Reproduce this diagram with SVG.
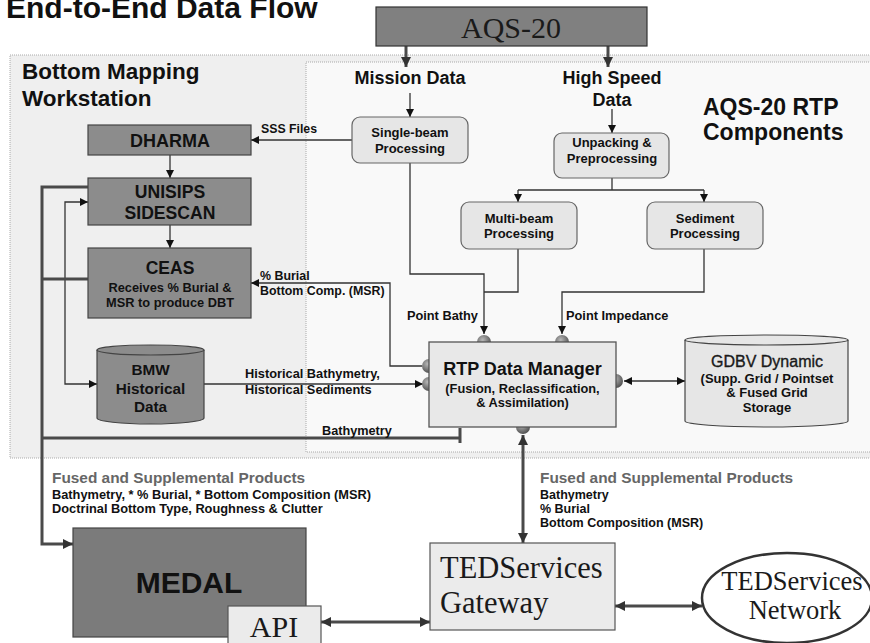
<svg xmlns="http://www.w3.org/2000/svg" width="870" height="643" viewBox="0 0 870 643">
<defs>
<style>
.t{font-family:"Liberation Sans",Arial,sans-serif;font-weight:bold;fill:#111}
.r{font-family:"Liberation Serif","Times New Roman",serif;fill:#1a1a1a}
.c{text-anchor:middle}
.dark{fill:#8c8c8c;stroke:#444;stroke-width:1.2}
.light{fill:#e6e6e6;stroke:#666;stroke-width:1.2}
.thin{fill:none;stroke:#333;stroke-width:1.3}
.thick{fill:none;stroke:#4a4a4a;stroke-width:3}
.panel{stroke:#aaa;stroke-width:1;stroke-dasharray:1 1}
</style>
<marker id="a" markerUnits="userSpaceOnUse" markerWidth="9" markerHeight="9" refX="8" refY="4" orient="auto-start-reverse"><path d="M0,0 L8,4 L0,8 z" fill="#111"/></marker>
<marker id="b" markerUnits="userSpaceOnUse" markerWidth="11" markerHeight="11" refX="10" refY="5" orient="auto-start-reverse"><path d="M0,0 L10,5 L0,10 z" fill="#333"/></marker>
<radialGradient id="g" cx="0.4" cy="0.35" r="0.7"><stop offset="0" stop-color="#b8b8b8"/><stop offset="1" stop-color="#4a4a4a"/></radialGradient>
</defs>
<rect width="870" height="643" fill="#ffffff"/>
<g id="panels">
<rect class="panel" x="10" y="55" width="880" height="403" fill="#efefef"/>
<rect class="panel" x="306" y="62" width="580" height="390" fill="#f9f9f9"/>
</g>
<text class="t" x="6" y="18" font-size="30">End-to-End Data Flow</text>
<text class="t" x="22" y="79" font-size="22.5">Bottom Mapping</text>
<text class="t" x="22" y="106" font-size="22.5">Workstation</text>
<text class="t" x="703" y="115" font-size="23">AQS-20 RTP</text>
<text class="t" x="703" y="140" font-size="23">Components</text>
<text class="t c" x="410" y="84" font-size="18">Mission Data</text>
<text class="t c" x="612" y="84" font-size="18">High Speed</text>
<text class="t c" x="612" y="106" font-size="18">Data</text>

<g id="connectors">
<path class="thick" d="M406,32 V67" marker-end="url(#b)"/>
<path class="thick" d="M608,32 V67" marker-end="url(#b)"/>
<path class="thin" d="M410,93 V117" marker-end="url(#a)"/>
<path class="thin" d="M612,109 V133" marker-end="url(#a)"/>
<path class="thin" d="M352,140 H251" marker-end="url(#a)"/>
<path class="thin" d="M170,155 V178" marker-end="url(#a)"/>
<path class="thin" d="M170,225 V248" marker-end="url(#a)"/>
<path class="thin" d="M612,178 V190 M518,190 H704"/>
<path class="thin" d="M518,190 V202" marker-end="url(#a)"/>
<path class="thin" d="M704,190 V202" marker-end="url(#a)"/>
<path class="thin" d="M410,163 V274 H484 V334" marker-end="url(#a)"/>
<path class="thin" d="M518,249 V292 H484"/>
<path class="thin" d="M704,249 V292 H562 V334" marker-end="url(#a)"/>
<path class="thin" d="M422,366 H390 V283 H251" marker-end="url(#a)"/>
<path class="thin" d="M204,384 H423" marker-end="url(#a)"/>
<path class="thin" d="M88,202 H65 V384 H97" marker-start="url(#a)" marker-end="url(#a)"/>
<path class="thin" d="M624,381 H685" marker-start="url(#a)" marker-end="url(#a)"/>
<path class="thick" d="M88,187 H42 V544 H73" marker-end="url(#b)"/>
<path class="thick" d="M88,279 H42 M42,438 H460 M460,428 V443"/>
<path class="thick" d="M523,435 V543" marker-start="url(#b)" marker-end="url(#b)"/>
<path class="thick" d="M321,622 H430" marker-start="url(#b)" marker-end="url(#b)"/>
<path class="thick" d="M615,606 H702" marker-start="url(#b)" marker-end="url(#b)"/>
</g>

<g id="labels">
<text class="t" x="261" y="133" font-size="12.3">SSS Files</text>
<text class="t" x="260" y="280" font-size="12.4">% Burial</text>
<text class="t" x="260" y="295" font-size="12.4">Bottom Comp. (MSR)</text>
<text class="t" x="478" y="320" font-size="12.8" text-anchor="end">Point Bathy</text>
<text class="t" x="566" y="320" font-size="12.8">Point Impedance</text>
<text class="t" x="245" y="378" font-size="12.8">Historical Bathymetry,</text>
<text class="t" x="245" y="394" font-size="12.8">Historical Sediments</text>
<text class="t" x="322" y="435" font-size="12.7">Bathymetry</text>
<text class="t" x="52" y="483" font-size="15.4" style="fill:#666">Fused and Supplemental Products</text>
<text class="t" x="52" y="499" font-size="12.8">Bathymetry, * % Burial, * Bottom Composition (MSR)</text>
<text class="t" x="52" y="513" font-size="12.8">Doctrinal Bottom Type, Roughness &amp; Clutter</text>
<text class="t" x="540" y="483" font-size="15.4" style="fill:#666">Fused and Supplemental Products</text>
<text class="t" x="540" y="499" font-size="12.5">Bathymetry</text>
<text class="t" x="540" y="513" font-size="12.5">% Burial</text>
<text class="t" x="540" y="527" font-size="12.5">Bottom Composition (MSR)</text>
</g>

<g id="aqs20">
<rect x="376" y="7" width="271" height="39" fill="#808080" stroke="#333" stroke-width="1.2"/>
<text class="r c" x="511" y="38" font-size="30">AQS-20</text>
</g>
<g id="dharma">
<rect class="dark" x="88" y="125" width="163" height="30"/>
<text class="t c" x="170" y="147" font-size="18">DHARMA</text>
</g>
<g id="unisips">
<rect class="dark" x="88" y="178" width="163" height="47"/>
<text class="t c" x="170" y="198" font-size="17.6">UNISIPS</text>
<text class="t c" x="170" y="219" font-size="17.6">SIDESCAN</text>
</g>
<g id="ceas">
<rect class="dark" x="88" y="248" width="163" height="70"/>
<text class="t c" x="170" y="274" font-size="17.5">CEAS</text>
<text class="t c" x="170" y="292" font-size="12.8">Receives % Burial &amp;</text>
<text class="t c" x="170" y="307" font-size="12.8">MSR to produce DBT</text>
</g>
<g id="bmw">
<path class="dark" d="M97,350 V418 A53.5,6 0 0 0 204,418 V350"/>
<ellipse class="dark" cx="150.5" cy="350" rx="53.5" ry="5"/>
<text class="t c" x="150.5" y="375" font-size="15.3">BMW</text>
<text class="t c" x="150.5" y="394" font-size="15.3">Historical</text>
<text class="t c" x="150.5" y="412" font-size="15.3">Data</text>
</g>
<g id="singlebeam">
<rect class="light" x="352" y="117" width="116" height="46" rx="8"/>
<text class="t c" x="410" y="137" font-size="13">Single-beam</text>
<text class="t c" x="410" y="153" font-size="13">Processing</text>
</g>
<g id="unpacking">
<rect class="light" x="554" y="133" width="115" height="45" rx="8"/>
<text class="t c" x="612" y="147" font-size="13">Unpacking &amp;</text>
<text class="t c" x="612" y="163" font-size="13">Preprocessing</text>
</g>
<g id="multibeam">
<rect class="light" x="461" y="202" width="116" height="47" rx="8"/>
<text class="t c" x="519" y="223" font-size="13">Multi-beam</text>
<text class="t c" x="519" y="238" font-size="13">Processing</text>
</g>
<g id="sediment">
<rect class="light" x="647" y="202" width="116" height="47" rx="8"/>
<text class="t c" x="705" y="223" font-size="13">Sediment</text>
<text class="t c" x="705" y="238" font-size="13">Processing</text>
</g>
<g id="rtp">
<circle cx="484" cy="342" r="7" fill="url(#g)"/>
<circle cx="562" cy="342" r="7" fill="url(#g)"/>
<circle cx="429" cy="366" r="7" fill="url(#g)"/>
<circle cx="429" cy="384" r="7" fill="url(#g)"/>
<circle cx="616" cy="381" r="7" fill="url(#g)"/>
<circle cx="523" cy="427" r="7" fill="url(#g)"/>
<rect x="429" y="342" width="187" height="85" fill="#e8e8e8" stroke="#555" stroke-width="1.3"/>
<text class="t c" x="522.5" y="375" font-size="18">RTP Data Manager</text>
<text class="t c" x="522.5" y="393" font-size="12.8">(Fusion, Reclassification,</text>
<text class="t c" x="522.5" y="407" font-size="12.8">&amp; Assimilation)</text>
</g>
<g id="gdbv">
<path d="M685,340 V421 A81.5,6 0 0 0 848,421 V340" fill="#e6e6e6" stroke="#444" stroke-width="1.2"/>
<ellipse cx="766.5" cy="340" rx="81.5" ry="5" fill="#e6e6e6" stroke="#444" stroke-width="1.2"/>
<text class="c" x="767" y="367" font-size="16" font-family="Liberation Sans, Arial, sans-serif" fill="#1a1a1a" stroke="#1a1a1a" stroke-width="0.35">GDBV Dynamic</text>
<text class="t c" x="767" y="383" font-size="13">(Supp. Grid / Pointset</text>
<text class="t c" x="767" y="397" font-size="13">&amp; Fused Grid</text>
<text class="t c" x="767" y="412" font-size="13">Storage</text>
</g>
<g id="medal">
<rect x="73" y="528" width="233" height="109" fill="#7b7b7b" stroke="#444" stroke-width="1.2"/>
<text class="t c" x="189" y="593" font-size="30">MEDAL</text>
</g>
<g id="api">
<rect x="228" y="606" width="93" height="42" fill="#ebebeb" stroke="#555" stroke-width="1.2"/>
<text class="r c" x="274" y="637" font-size="30">API</text>
</g>
<g id="gateway">
<rect x="430" y="543" width="185" height="87" fill="#ebebeb" stroke="#555" stroke-width="1.2"/>
<text class="r" x="440" y="578" font-size="30.5">TEDServices</text>
<text class="r" x="440" y="613" font-size="30.5">Gateway</text>
</g>
<g id="network">
<ellipse cx="787" cy="598" rx="85" ry="45" fill="#ffffff" stroke="#333" stroke-width="2.5"/>
<text class="r c" x="792" y="590" font-size="26.5">TEDServices</text>
<text class="r c" x="795" y="619" font-size="26.5">Network</text>
</g>
</svg>
